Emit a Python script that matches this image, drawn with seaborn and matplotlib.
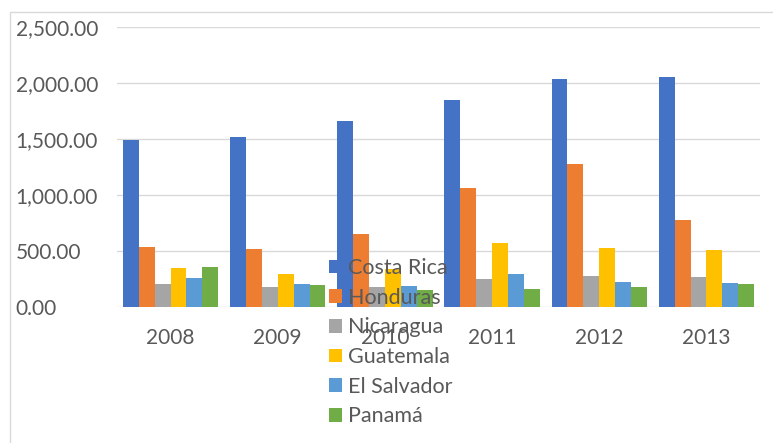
import matplotlib
matplotlib.use("Agg")
import matplotlib.pyplot as plt
import seaborn as sns
import pandas as pd
from matplotlib.patches import Rectangle
from matplotlib.ticker import FuncFormatter

years = ["2008", "2009", "2010", "2011", "2012", "2013"]
countries = ["Costa Rica", "Honduras", "Nicaragua", "Guatemala", "El Salvador", "Panamá"]
costa_rica = [1490, 1515, 1665, 1850, 2040, 2050]
honduras = [540, 515, 655, 1065, 1280, 780]
nicaragua = [205, 175, 180, 250, 275, 265]
guatemala = [350, 295, 340, 570, 525, 505]
el_salvador = [260, 205, 185, 295, 225, 215]
panama = [355, 195, 150, 160, 180, 205]
colors = ["#4472C4", "#ED7D31", "#A5A5A5", "#FFC000", "#5B9BD5", "#70AD47"]

series = [costa_rica, honduras, nicaragua, guatemala, el_salvador, panama]
df = pd.DataFrame(
    [(y, c, v) for c, vals in zip(countries, series) for y, v in zip(years, vals)],
    columns=["year", "country", "value"],
)

sns.set_theme(style="white")
plt.rcParams["font.family"] = ["Lato", "DejaVu Sans"]
text_color = "#595959"

W, H = 773, 443
fig = plt.figure(figsize=(W / 100, H / 100), dpi=100)
fig.patch.set_facecolor("white")

# chart-area frame
fig.add_artist(Rectangle((10 / W, -0.05), 1.2, (H - 12) / H + 0.05,
                         transform=fig.transFigure, fill=False,
                         edgecolor="#D9D9D9", linewidth=1))

ax = fig.add_axes([117 / W, (H - 307) / H, (760 - 117) / W, (307 - 27) / H])
sns.barplot(data=df, x="year", y="value", hue="country", palette=colors,
            saturation=1, width=0.89, linewidth=0, ax=ax, legend=True)

ax.set_ylim(0, 2500)
ax.set_yticks([0, 500, 1000, 1500, 2000, 2500])
ax.yaxis.set_major_formatter(FuncFormatter(lambda v, _: f"{v:,.2f}"))
ax.grid(axis="y", color="#D9D9D9", linewidth=1)
ax.set_axisbelow(True)
for s in ax.spines.values():
    s.set_visible(False)
ax.set_xlabel("")
ax.set_ylabel("")
ax.tick_params(axis="y", length=0, pad=73, labelsize=15, labelcolor=text_color)
for lbl in ax.get_yticklabels():
    lbl.set_horizontalalignment("left")
ax.tick_params(axis="x", length=0, pad=15, labelsize=15, labelcolor=text_color)

handles, labels = ax.get_legend_handles_labels()
ax.legend_.remove()
leg = fig.legend(handles, labels, loc="upper left",
                 bbox_to_anchor=(329 / W, (H - 258) / H),
                 frameon=False, fontsize=15.5, labelcolor=text_color,
                 handlelength=0.6, handleheight=0.6, handletextpad=0.3,
                 labelspacing=0.45, borderpad=0, borderaxespad=0)
leg.set_zorder(10)

fig.savefig("out.png", dpi=100)
